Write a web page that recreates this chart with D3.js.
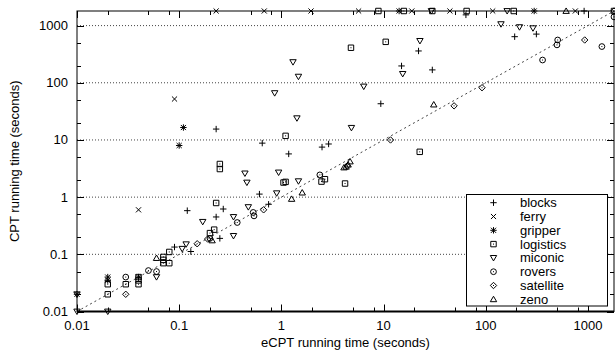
<!DOCTYPE html>
<html><head><meta charset="utf-8">
<script src="https://cdn.jsdelivr.net/npm/d3@7/dist/d3.min.js"></script>
<style>
body{margin:0;background:#fff;}
text{font-family:"Liberation Sans",Arial,Helvetica,sans-serif;font-size:13px;fill:#000;}
</style></head>
<body>
<svg id="c" width="615" height="354"></svg>
<script>
const TMAX = 1800;
const seriesNames = ["blocks","ferry","gripper","logistics","miconic","rovers","satellite","zeno"];
const blocks = [[0.09,0.134],[0.13,0.112],[0.12,0.58],[0.23,0.45],[0.27,0.62],[0.25,0.19],[0.61,1.13],[0.75,0.75],
  [1.18,5.7],[0.23,15.5],[0.65,8.8],[2.5,7.5],[2.9,8.5],[9.4,43],[15,197],[22,360],[30,168],[64,1540],[192,640],[313,710],[918,1800]];
const ferry = [[0.04,0.6],[0.09,52],[0.23,1800],[0.68,1800],[1.95,1800],[5.7,1800],[18.9,1800],[44.6,1800],[117,1800],[753,1800]];
const gripper = [[0.01,0.02],[0.02,0.04],[0.02,0.035],[0.04,0.04],[0.1,8],[0.11,16.5],[14.2,1800],[298,1800]];
const logistics = [[0.02,0.02],[0.02,0.03],[0.03,0.03],[0.04,0.03],[0.04,0.035],[0.04,0.04],[0.07,0.07],[0.07,0.08],[0.07,0.09],
  [0.08,0.07],[0.08,0.11],[0.2,0.235],[0.22,0.27],[0.23,0.79],[0.25,3.1],[0.25,3.8],[1.1,11.8],[1.05,1.8],[1.1,1.85],
  [2.47,1.87],[2.67,2.06],[4.2,1.73],[4.8,410],[10.5,520],[22.6,6.2],[8.9,1800],[15.8,1800],[30,1800],[65,1800],[188,1800],[1800,1800]];
const miconic = [[0.01,0.01],[0.02,0.01],[0.01,0.02],[0.06,0.04],[0.107,0.125],[0.117,0.15],[0.17,0.37],[0.34,0.45],[0.34,0.21],
  [0.475,0.67],[0.9,1.17],[0.44,2.6],[0.46,1.8],[0.94,2.7],[1.47,1.9],[0.86,66],[1.3,230],[1.47,128],[1.42,24],[4.85,16.3],
  [6.4,86],[15.4,143],[22.7,540],[141,1060],[214,940],[290,900],[29.4,1800],[162,1800]];
const rovers = [[0.03,0.04],[0.05,0.052],[0.06,0.05],[0.2,0.19],[0.37,0.36],[0.53,0.54],[0.54,0.47],[2.38,2.45],
  [360,250],[498,460],[506,560],[1370,430],[1800,1420]];
const satellite = [[0.03,0.02],[0.15,0.153],[0.19,0.185],[0.67,0.6],[4.4,3.5],[11.7,10],[49,39.5],[92,82],[930,560],[1800,1800]];
const zeno = [[0.06,0.086],[0.21,0.175],[1.26,0.93],[1.6,1.2],[4.1,3.3],[4.3,3.4],[4.5,3.7],[4.7,4.2],[31,41.6],[612,1800]];
const seriesData = [blocks, ferry, gripper, logistics, miconic, rovers, satellite, zeno];
const majorTicks = [0.01,0.1,1,10,100,1000];
const tickLabels = ["0.01","0.1","1","10","100","1000"];
const gridValues = [0.1,1,10,100,1000];
const xLabel = "eCPT running time (seconds)";
const yLabel = "CPT running time (seconds)";

const L=77, R=614, T=11, B=311.5;
const svg = d3.select("#c");
const x = d3.scaleLog().domain([0.01, TMAX]).range([L, R]);
const y = d3.scaleLog().domain([0.01, TMAX]).range([B, T]);

// grid lines
svg.append("g").selectAll("line").data(gridValues).join("line")
  .attr("x1",L).attr("x2",R).attr("y1",d=>y(d)).attr("y2",d=>y(d))
  .attr("stroke","#444").attr("stroke-width",1).attr("stroke-dasharray","1,2");
// diagonal
svg.append("line").attr("x1",x(0.01)).attr("y1",y(0.01)).attr("x2",x(TMAX)).attr("y2",y(TMAX))
  .attr("stroke","#444").attr("stroke-width",1).attr("stroke-dasharray","2,3");

// ticks
const minorX = [], minorY = [];
[0.01,0.1,1,10,100,1000].forEach(d=>{[2,5,8].forEach(m=>{if(d*m<TMAX) minorX.push(d*m);}); [2,5].forEach(m=>{if(d*m<TMAX) minorY.push(d*m);});});
const tk = svg.append("g").attr("stroke","#000").attr("stroke-width",1);
function vt(vals,len){vals.forEach(v=>{const px=Math.round(x(v))+0.5;
  tk.append("line").attr("x1",px).attr("x2",px).attr("y1",B).attr("y2",B-len);
  tk.append("line").attr("x1",px).attr("x2",px).attr("y1",T).attr("y2",T+len);});}
function ht(vals,len){vals.forEach(v=>{const py=Math.round(y(v))+0.5;
  tk.append("line").attr("y1",py).attr("y2",py).attr("x1",L).attr("x2",L+len);
  tk.append("line").attr("y1",py).attr("y2",py).attr("x1",R).attr("x2",R-len);});}
vt(majorTicks,7); vt(minorX,4); ht(majorTicks,7); ht(minorY,4);

// frame
svg.append("rect").attr("x",L).attr("y",T).attr("width",R-L).attr("height",B-T)
  .attr("fill","none").attr("stroke","#000").attr("stroke-width",1);
svg.append("line").attr("x1",L).attr("x2",R).attr("y1",B).attr("y2",B).attr("stroke","#000").attr("stroke-width",2);

// tick labels
svg.append("g").selectAll("text").data(majorTicks).join("text")
  .attr("x",d=>x(d)).attr("y",330).attr("text-anchor","middle").text((d,i)=>tickLabels[i]);
svg.append("g").selectAll("text").data(majorTicks).join("text")
  .attr("x",68).attr("y",d=>y(d)+4.5).attr("text-anchor","end").text((d,i)=>tickLabels[i]);
svg.append("text").attr("x",(L+R)/2).attr("y",347).attr("text-anchor","middle").text(xLabel);
svg.append("text").attr("transform",`translate(19,${(T+B)/2}) rotate(-90)`).attr("text-anchor","middle").text(yLabel);

// symbols
const s = 3.2;
function sym(i){
  const dot = "M-0.5,0h1";
  switch(i){
    case 0: return `M${-s},0H${s}M0,${-s}V${s}`;
    case 1: return `M${-s*0.8},${-s*0.8}L${s*0.8},${s*0.8}M${-s*0.8},${s*0.8}L${s*0.8},${-s*0.8}`;
    case 2: return `M${-s},0H${s}M0,${-s}V${s}M${-s*0.8},${-s*0.8}L${s*0.8},${s*0.8}M${-s*0.8},${s*0.8}L${s*0.8},${-s*0.8}`;
    case 3: return `M${-s*0.85},${-s*0.85}H${s*0.85}V${s*0.85}H${-s*0.85}Z`+dot;
    case 4: return `M${-s},${-s*0.75}H${s}L0,${s*0.95}Z`;
    case 5: return `M${s*0.9},0A${s*0.9},${s*0.9} 0 1 1 ${-s*0.9},0A${s*0.9},${s*0.9} 0 1 1 ${s*0.9},0Z`+dot;
    case 6: return `M0,${-s}L${s},0L0,${s}L${-s},0Z`+dot;
    case 7: return `M${-s},${s*0.75}H${s}L0,${-s*0.95}Z`;
  }
}
const pts = svg.append("g").attr("fill","none").attr("stroke","#000").attr("stroke-width",1);
seriesData.forEach((arr,i)=>{
  pts.selectAll(null).data(arr).join("path")
    .attr("transform",d=>`translate(${x(d[0])},${y(d[1])})`)
    .attr("d",sym(i));
});

// legend
const lg = svg.append("g");
lg.append("rect").attr("x",466.5).attr("y",194.5).attr("width",141).attr("height",111.5)
  .attr("fill","#fff").attr("stroke","#000").attr("stroke-width",1);
seriesNames.forEach((n,i)=>{
  const yy = 202.7 + i*13.8;
  lg.append("path").attr("transform",`translate(493.5,${yy})`).attr("d",sym(i))
    .attr("fill","none").attr("stroke","#000").attr("stroke-width",1);
  lg.append("text").attr("x",520).attr("y",yy+4.5).text(n);
});
</script>
</body></html>
